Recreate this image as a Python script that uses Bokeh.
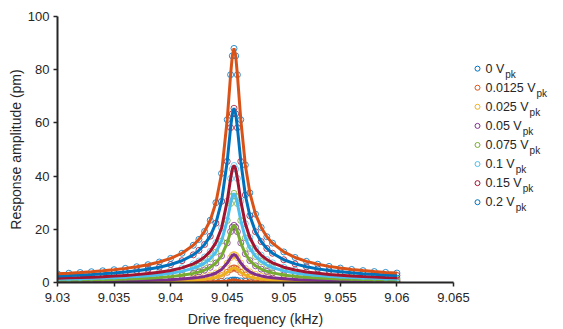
from bokeh.plotting import figure
from bokeh.models import Range1d, FixedTicker
from bokeh.layouts import row
from bokeh.embed import file_html
from bokeh.resources import INLINE
from bokeh.core.properties import value

# ---------------- data ----------------
freq_khz = [9.0300, 9.0310, 9.0320, 9.0330, 9.0340, 9.0350, 9.0360, 9.0370, 9.0380, 9.0390,
            9.0400, 9.0410, 9.0420, 9.0425, 9.0430, 9.0435, 9.0440, 9.0445, 9.0450, 9.0453,
            9.04545, 9.0456, 9.04575, 9.0459, 9.0462, 9.0466, 9.0470, 9.0475, 9.0480, 9.0485,
            9.0490, 9.0500, 9.0510, 9.0520, 9.0530, 9.0540, 9.0550, 9.0560, 9.0570, 9.0580,
            9.0590, 9.0600]

amp_0V = [0.3, 0.3, 0.3, 0.3, 0.3, 0.3, 0.3, 0.3, 0.3, 0.3,
          0.3, 0.3, 0.3, 0.3, 0.3, 0.3, 0.35, 0.45, 0.6, 0.8,
          0.9, 0.95, 0.9, 0.8, 0.6, 0.45, 0.35, 0.3, 0.3, 0.3,
          0.3, 0.3, 0.3, 0.3, 0.3, 0.3, 0.3, 0.3, 0.3, 0.3,
          0.3, 0.3]
amp_0p0125V = [0.20, 0.22, 0.23, 0.25, 0.28, 0.30, 0.33, 0.37, 0.42, 0.48,
               0.57, 0.69, 0.87, 1.01, 1.20, 1.46, 1.88, 2.56, 3.82, 4.88,
               5.32, 5.50, 5.32, 4.88, 3.82, 2.76, 2.11, 1.61, 1.29, 1.08,
               0.92, 0.72, 0.59, 0.50, 0.43, 0.38, 0.34, 0.31, 0.28, 0.26,
               0.24, 0.22]
amp_0p025V = [0.39, 0.42, 0.45, 0.48, 0.53, 0.57, 0.63, 0.71, 0.80, 0.92,
              1.08, 1.31, 1.67, 1.93, 2.29, 2.79, 3.58, 4.89, 7.30, 9.32,
              10.2, 10.5, 10.2, 9.32, 7.30, 5.27, 4.02, 3.07, 2.47, 2.06,
              1.76, 1.37, 1.12, 0.95, 0.82, 0.72, 0.65, 0.58, 0.53, 0.49,
              0.45, 0.42]
amp_0p05V = [0.80, 0.85, 0.92, 0.99, 1.08, 1.17, 1.30, 1.45, 1.64, 1.88,
             2.21, 2.69, 3.42, 3.96, 4.69, 5.72, 7.33, 10.0, 14.9, 19.1,
             20.8, 21.5, 20.8, 19.1, 14.9, 10.8, 8.23, 6.28, 5.05, 4.21,
             3.61, 2.81, 2.30, 1.94, 1.68, 1.48, 1.32, 1.20, 1.09, 1.00,
             0.93, 0.87]
amp_0p075V = [1.25, 1.33, 1.43, 1.54, 1.68, 1.83, 2.02, 2.25, 2.55, 2.93,
              3.45, 4.19, 5.33, 6.16, 7.30, 8.91, 11.4, 15.6, 23.3, 29.7,
              32.4, 33.5, 32.4, 29.7, 23.3, 16.8, 12.8, 9.78, 7.87, 6.57,
              5.63, 4.38, 3.58, 3.03, 2.62, 2.31, 2.06, 1.87, 1.70, 1.56,
              1.45, 1.35]
amp_0p1V = [1.64, 1.75, 1.87, 2.02, 2.20, 2.40, 2.65, 2.96, 3.35, 3.85,
            4.53, 5.50, 7.00, 8.10, 9.59, 11.7, 15.0, 20.5, 30.6, 39.1,
            42.6, 44.0, 42.6, 39.1, 30.6, 22.1, 16.9, 12.8, 10.3, 8.62,
            7.39, 5.75, 4.70, 3.97, 3.44, 3.03, 2.71, 2.45, 2.24, 2.05,
            1.90, 1.77]
amp_0p15V = [2.44, 2.60, 2.79, 3.01, 3.28, 3.58, 3.95, 4.41, 4.98, 5.73,
             6.75, 8.19, 10.4, 12.1, 14.3, 17.4, 22.3, 30.5, 45.5, 58.2,
             63.4, 65.5, 63.4, 58.2, 45.5, 32.9, 25.1, 19.1, 15.4, 12.8,
             11.0, 8.56, 7.00, 5.91, 5.12, 4.51, 4.03, 3.65, 3.33, 3.06,
             2.83, 2.64]
amp_0p2V = [3.27, 3.49, 3.75, 4.05, 4.40, 4.80, 5.31, 5.92, 6.70, 7.70,
            9.06, 11.0, 14.0, 16.2, 19.2, 23.4, 30.0, 41.0, 61.2, 78.1,
            85.2, 88.0, 85.2, 78.1, 61.2, 44.2, 33.7, 25.7, 20.7, 17.2,
            14.8, 11.5, 9.40, 7.95, 6.87, 6.06, 5.42, 4.90, 4.47, 4.11,
            3.80, 3.55]

drive_levels = ["0", "0.0125", "0.025", "0.05", "0.075", "0.1", "0.15", "0.2"]
series = [amp_0V, amp_0p0125V, amp_0p025V, amp_0p05V, amp_0p075V, amp_0p1V, amp_0p15V, amp_0p2V]

x_tick_values = [9.03, 9.035, 9.04, 9.045, 9.05, 9.055, 9.06, 9.065]
x_tick_labels = ["9.03", "9.035", "9.04", "9.045", "9.05", "9.055", "9.06", "9.065"]
y_tick_values = [0, 20, 40, 60, 80, 100]

# ---------------- styles ----------------
BLUE, ORANGE, YELLOW, PURPLE = "#0072BD", "#D95319", "#EDB120", "#7E2F8E"
GREEN, LBLUE, DRED = "#77AC30", "#4DBEEE", "#A2142F"
data_colors = [BLUE, ORANGE, YELLOW, PURPLE, GREEN, LBLUE, DRED, BLUE]
fit_colors = [ORANGE, YELLOW, PURPLE, GREEN, LBLUE, DRED, BLUE, ORANGE]
FONT = "Liberation Sans"
TXT = "#262626"

p = figure(width=470, height=329, x_range=Range1d(9.03, 9.065), y_range=Range1d(0, 100),
           output_backend="svg", toolbar_location=None,
           min_border_left=57, min_border_right=17, min_border_top=16, min_border_bottom=47)
p.outline_line_color = None
p.grid.visible = False
p.background_fill_color = "white"
p.border_fill_color = "white"

for amps, dc, fc in zip(series, data_colors, fit_colors):
    p.scatter(freq_khz, amps, marker="circle", size=6, fill_color=None,
              line_color=dc, line_width=1, line_alpha=0.8)
    p.line(freq_khz, amps, line_color=fc, line_width=3)

for ax in (p.xaxis[0], p.yaxis[0]):
    ax.axis_line_color = TXT
    ax.axis_line_width = 2
    ax.major_tick_line_color = TXT
    ax.major_tick_line_width = 1.5
    ax.major_tick_in = 0
    ax.major_tick_out = 4
    ax.minor_tick_line_color = None
    ax.major_label_text_font = FONT
    ax.major_label_text_font_size = "13px"
    ax.major_label_text_color = TXT
    ax.axis_label_text_font = FONT
    ax.axis_label_text_font_size = "14px"
    ax.axis_label_text_font_style = "normal"
    ax.axis_label_text_color = TXT

p.xaxis.ticker = FixedTicker(ticks=x_tick_values)
p.xaxis.major_label_overrides = {v: l for v, l in zip(x_tick_values, x_tick_labels)}
p.xaxis.axis_label = "Drive frequency (kHz)"
p.xaxis.major_label_standoff = 6
p.xaxis.axis_label_standoff = 6

p.yaxis.ticker = FixedTicker(ticks=y_tick_values)
p.yaxis.axis_label = "Response amplitude (pm)"
p.yaxis.major_label_standoff = 4
p.yaxis.axis_label_standoff = 1

# ---------------- legend (separate panel to the right) ----------------
LW, LH = 93, 329
lg = figure(width=LW, height=LH, x_range=Range1d(0, LW), y_range=Range1d(LH, 0),
            output_backend="svg", toolbar_location=None, min_border=0,
            x_axis_type=None, y_axis_type=None)
lg.outline_line_color = None
lg.background_fill_color = "white"
lg.border_fill_color = "white"

char_w = {".": 0.278, " ": 0.278, "V": 0.667}
main_size, sub_size = 12.5, 10
row0, step = 64.5, 23.6
marker_x, text_x = 7, 15

mx, my, mc, tx, ty, tt, sx, sy = [], [], [], [], [], [], [], []
for i, lvl in enumerate(drive_levels):
    yy = row0 + i * step
    label = lvl + " V"
    w = sum(char_w.get(ch, 0.556) for ch in label) * main_size
    mx.append(marker_x); my.append(yy); mc.append(data_colors[i])
    tx.append(text_x); ty.append(yy); tt.append(label)
    sx.append(text_x + w + 1); sy.append(yy + 7)

lg.scatter(mx, my, marker="circle", size=5, fill_color=None, line_color=mc, line_width=1)
lg.text(tx, ty, text=tt, text_font=value(FONT), text_font_size=f"{main_size}px",
        text_baseline="middle", text_align="left", text_color=TXT)
lg.text(sx, sy, text=["pk"] * len(sx), text_font=value(FONT), text_font_size=f"{sub_size}px",
        text_baseline="middle", text_align="left", text_color=TXT)

layout = row(p, lg)
open("out.html", "w").write(file_html(layout, INLINE))
